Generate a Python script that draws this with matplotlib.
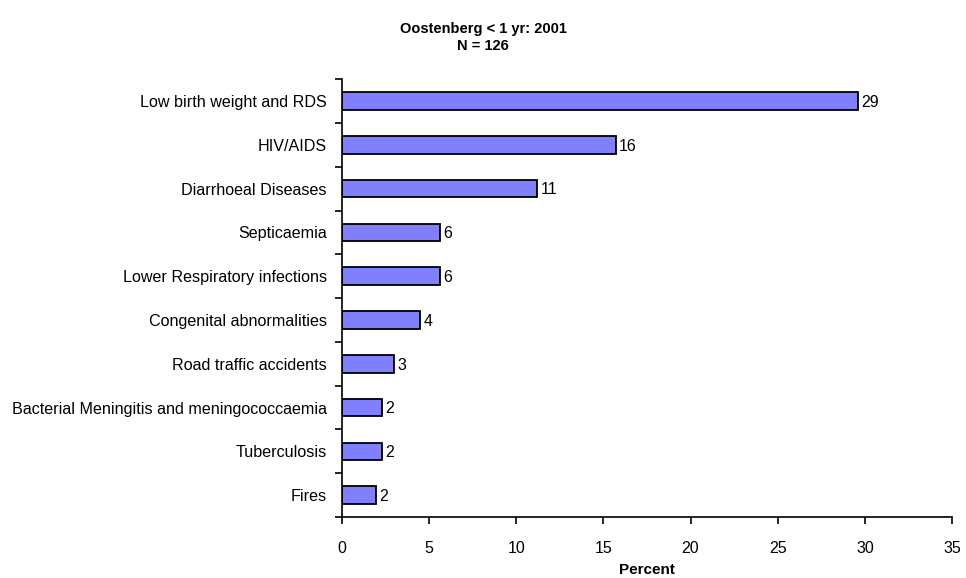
import matplotlib.pyplot as plt

plt.rcParams['font.family'] = ['Liberation Sans', 'DejaVu Sans']

causes = ["Low birth weight and RDS", "HIV/AIDS", "Diarrhoeal Diseases", "Septicaemia",
          "Lower Respiratory infections", "Congenital abnormalities", "Road traffic accidents",
          "Bacterial Meningitis and meningococcaemia", "Tuberculosis", "Fires"]
percent = [29.6, 15.7, 11.2, 5.6, 5.6, 4.5, 3.0, 2.3, 2.3, 1.95]
labels = ["29", "16", "11", "6", "6", "4", "3", "2", "2", "2"]

fig = plt.figure(figsize=(9.66, 5.78), dpi=100)
ax = fig.add_axes([0.354, 0.1055, 0.6315, 0.7575])

ypos = list(range(len(causes)))
ax.barh(ypos, percent, height=0.4, color="#8080FF", edgecolor="black", linewidth=1.3)
for y, v, t in zip(ypos, percent, labels):
    ax.text(v + 0.2, y + 0.03, t, va="center", ha="left", fontsize=11.5)

ax.set_ylim(len(causes) - 0.5, -0.5)
ax.set_xlim(0, 35)
ax.set_xticks(range(0, 36, 5))
ax.set_yticks([i - 0.5 for i in range(len(causes) + 1)], minor=False)
ax.set_yticklabels([])
ax.set_yticks(ypos, minor=True)
ax.set_yticklabels(causes, minor=True)
ax.tick_params(axis="y", which="major", length=5, width=1.2, direction="out")
ax.tick_params(axis="y", which="minor", length=0, pad=11, labelsize=11.6)
ax.tick_params(axis="x", length=5, width=1.2, direction="out", labelsize=11.5, pad=12)

for s in ["top", "right"]:
    ax.spines[s].set_visible(False)
for s in ["left", "bottom"]:
    ax.spines[s].set_linewidth(1.2)

ax.set_xlabel("Percent", fontsize=11, fontweight="bold", labelpad=5)
fig.text(0.5, 0.935, "Oostenberg < 1 yr: 2001\nN = 126", ha="center", va="center",
         fontsize=10.5, fontweight="bold", linespacing=1.35)

plt.savefig("out.png", dpi=100)
